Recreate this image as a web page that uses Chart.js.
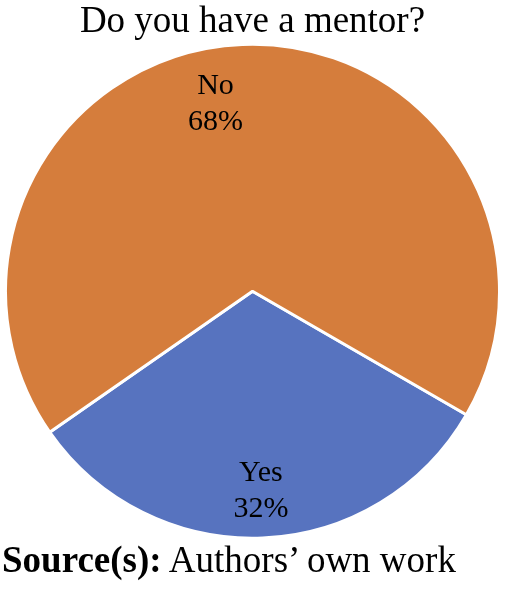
<!DOCTYPE html>
<html>
<head>
<meta charset="utf-8">
<script src="https://cdn.jsdelivr.net/npm/chart.js@4/dist/chart.umd.min.js"></script>
<style>
  html, body { margin: 0; padding: 0; background: #fff; }
  #wrap { position: relative; width: 505px; height: 591px; overflow: hidden; }
  #chartBox { position: absolute; left: 0; top: 0; width: 505px; height: 591px; }
  #source { position: absolute; left: 2px; top: 541px; font-family: "Liberation Serif", "Times New Roman", serif; font-size: 37px; line-height: 37px; color: #000; white-space: nowrap; }
</style>
</head>
<body>
<div id="wrap">
  <div id="chartBox"><canvas id="c"></canvas></div>
  <div id="source"><b>Source(s):</b> Authors’ own work</div>
</div>
<script>
const titleText = "Do you have a mentor?";
const categories = ["Yes", "No"];
const values = [32, 68];
const valueLabels = ["32%", "68%"];
const sliceColors = ["#5773BF", "#D57D3C"];

const labelAngleShiftDeg = [0, -8.8];
const labelRadiusFrac = [0.81, 0.772];

const sliceLabels = {
  id: "sliceLabels",
  afterDatasetsDraw(chart) {
    const ctx = chart.ctx;
    const meta = chart.getDatasetMeta(0);
    ctx.save();
    ctx.font = '30px "Liberation Serif", "Times New Roman", serif';
    ctx.fillStyle = "#000";
    ctx.textAlign = "center";
    ctx.textBaseline = "middle";
    meta.data.forEach((arc, i) => {
      const p = arc.getProps(["x", "y", "startAngle", "endAngle", "outerRadius"], true);
      const mid = (p.startAngle + p.endAngle) / 2 + labelAngleShiftDeg[i] * Math.PI / 180;
      const r = p.outerRadius * labelRadiusFrac[i];
      const cx = p.x + Math.cos(mid) * r;
      const cy = p.y + Math.sin(mid) * r;
      ctx.fillText(categories[i], cx, cy - 18);
      ctx.fillText(valueLabels[i], cx, cy + 18);
    });
    ctx.restore();
  }
};

new Chart(document.getElementById("c"), {
  type: "pie",
  data: {
    labels: categories,
    datasets: [{
      data: values,
      backgroundColor: sliceColors,
      borderColor: "#ffffff",
      borderWidth: 3
    }]
  },
  options: {
    responsive: true,
    maintainAspectRatio: false,
    animation: false,
    rotation: 120,
    layout: { padding: { top: 0, left: 4, right: 4, bottom: 51.3 } },
    plugins: {
      legend: { display: false },
      tooltip: { enabled: false },
      title: {
        display: true,
        text: titleText,
        color: "#000",
        font: { family: '"Liberation Serif", "Times New Roman", serif', size: 37, weight: "normal", lineHeight: 1.1 },
        padding: { top: 2, bottom: 0 }
      }
    }
  },
  plugins: [sliceLabels]
});
</script>
</body>
</html>
